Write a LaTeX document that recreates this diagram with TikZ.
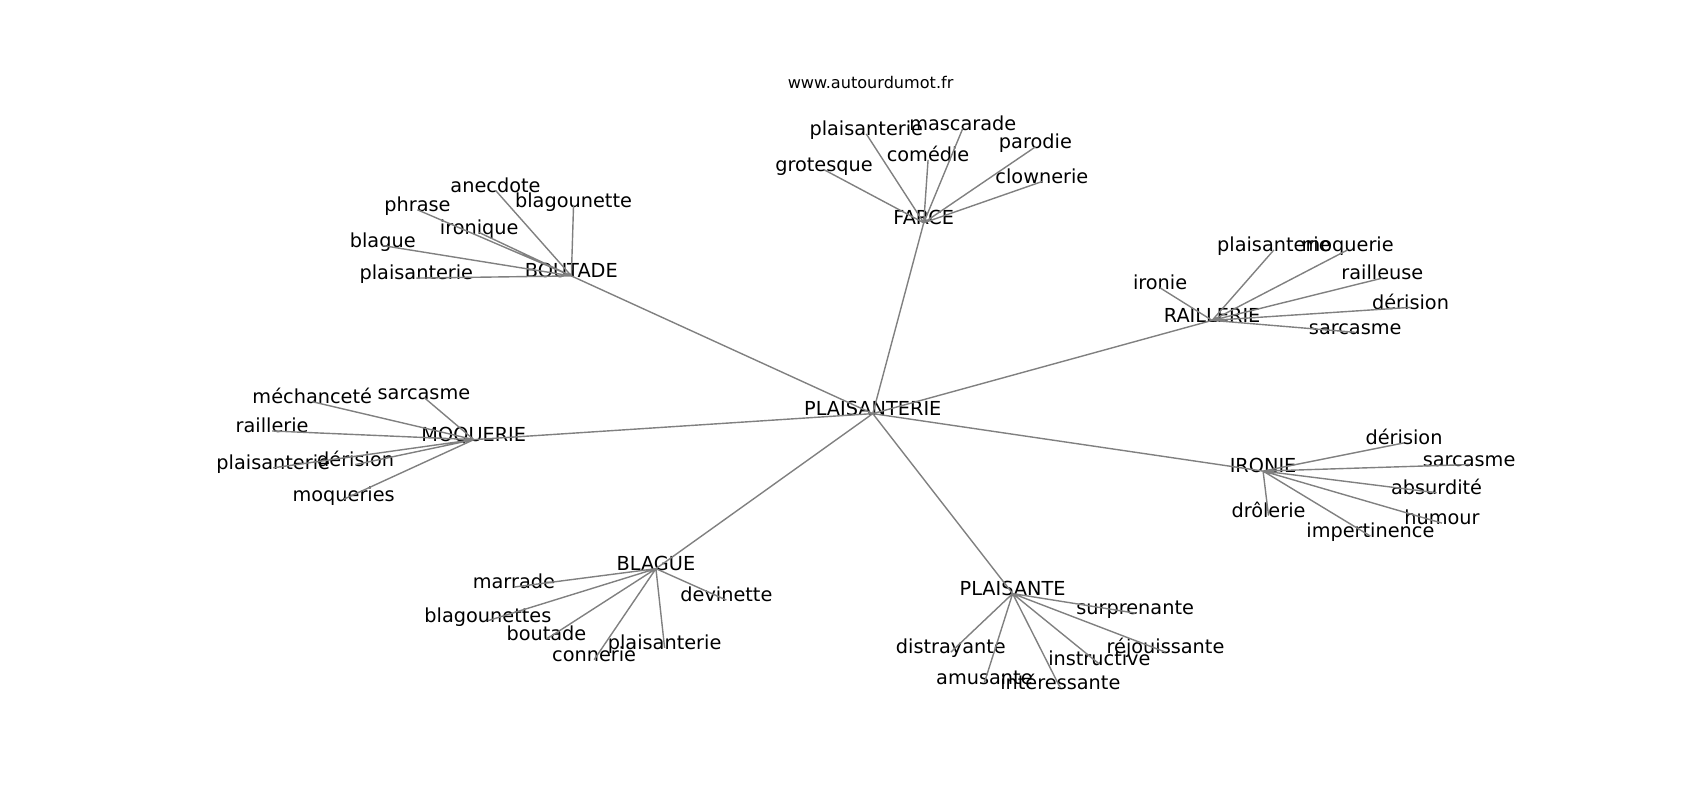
\documentclass[tikz,border=0pt]{standalone}
\usepackage{fontspec}
\setmainfont{DejaVu Sans}
\tikzset{
	word/.style={inner sep=0pt, text height=0.76em, text depth=0.40em, font=\fontsize{19.3}{22}\selectfont},
	site/.style={inner sep=0pt, font=\fontsize{16.1}{19}\selectfont},
	link/.style={draw=gray, line width=1.4pt},
}
\begin{document}
\begin{tikzpicture}[x=1.0842pt, y=-1.0842pt]
		\useasboundingbox (0,0) rectangle (1568,738);
		\node[site] (site) at (803,76) {www.autourdumot.fr};
	\begin{scope}[shift={(0,4.5)}]
		\node[word] (plaisanterie) at (805,377) {PLAISANTERIE};
		\node[word] (farce) at (852,201) {FARCE};
		\node[word] (boutade) at (527,250) {BOUTADE};
		\node[word] (raillerie) at (1118,291) {RAILLERIE};
		\node[word] (moquerie) at (437,401) {MOQUERIE};
		\node[word] (ironie) at (1165,430) {IRONIE};
		\node[word] (blague) at (605,520) {BLAGUE};
		\node[word] (plaisante) at (934,543) {PLAISANTE};
		\draw[link] (plaisanterie.center) -- (farce.center);
		\draw[link] (plaisanterie.center) -- (boutade.center);
		\draw[link] (plaisanterie.center) -- (raillerie.center);
		\draw[link] (plaisanterie.center) -- (moquerie.center);
		\draw[link] (plaisanterie.center) -- (ironie.center);
		\draw[link] (plaisanterie.center) -- (blague.center);
		\draw[link] (plaisanterie.center) -- (plaisante.center);

		\node[word] (fa-grot) at (760,152) {grotesque};
		\node[word] (fa-plai) at (799,119) {plaisanterie};
		\node[word] (fa-masc) at (888,114) {mascarade};
		\node[word] (fa-come) at (856,143) {comédie};
		\node[word] (fa-paro) at (955,131) {parodie};
		\node[word] (fa-clow) at (961,163) {clownerie};
		\draw[link] (farce.center) -- (fa-grot.center) (farce.center) -- (fa-plai.center)
			(farce.center) -- (fa-masc.center) (farce.center) -- (fa-come.center)
			(farce.center) -- (fa-paro.center) (farce.center) -- (fa-clow.center);

		\node[word] (bo-anec) at (457,171) {anecdote};
		\node[word] (bo-blag) at (529,185) {blagounette};
		\node[word] (bo-phra) at (385,189) {phrase};
		\node[word] (bo-iron) at (442,210) {ironique};
		\node[word] (bo-blg) at (353,222) {blague};
		\node[word] (bo-plai) at (384,252) {plaisanterie};
		\draw[link] (boutade.center) -- (bo-anec.center) (boutade.center) -- (bo-blag.center)
			(boutade.center) -- (bo-phra.center) (boutade.center) -- (bo-iron.center)
			(boutade.center) -- (bo-blg.center) (boutade.center) -- (bo-plai.center);

		\node[word] (ra-iron) at (1070,261) {ironie};
		\node[word] (ra-plai) at (1175,226) {plaisanterie};
		\node[word] (ra-moqu) at (1243,226) {moquerie};
		\node[word] (ra-rail) at (1275,252) {railleuse};
		\node[word] (ra-deri) at (1301,279) {dérision};
		\node[word] (ra-sarc) at (1250,302) {sarcasme};
		\draw[link] (raillerie.center) -- (ra-iron.center) (raillerie.center) -- (ra-plai.center)
			(raillerie.center) -- (ra-moqu.center) (raillerie.center) -- (ra-rail.center)
			(raillerie.center) -- (ra-deri.center) (raillerie.center) -- (ra-sarc.center);

		\node[word] (mo-mech) at (288,366) {méchanceté};
		\node[word] (mo-sarc) at (391,362) {sarcasme};
		\node[word] (mo-rail) at (251,393) {raillerie};
		\node[word] (mo-plai) at (252,427) {plaisanterie};
		\node[word] (mo-deri) at (328,424) {dérision};
		\node[word] (mo-moqu) at (317,456) {moqueries};
		\draw[link] (moquerie.center) -- (mo-mech.center) (moquerie.center) -- (mo-sarc.center)
			(moquerie.center) -- (mo-rail.center) (moquerie.center) -- (mo-plai.center)
			(moquerie.center) -- (mo-deri.center) (moquerie.center) -- (mo-moqu.center);

		\node[word] (ir-deri) at (1295,404) {dérision};
		\node[word] (ir-sarc) at (1355,424) {sarcasme};
		\node[word] (ir-absu) at (1325,450) {absurdité};
		\node[word] (ir-humo) at (1330,478) {humour};
		\node[word] (ir-drol) at (1170,471) {drôlerie};
		\node[word] (ir-impe) at (1264,490) {impertinence};
		\draw[link] (ironie.center) -- (ir-deri.center) (ironie.center) -- (ir-sarc.center)
			(ironie.center) -- (ir-absu.center) (ironie.center) -- (ir-humo.center)
			(ironie.center) -- (ir-drol.center) (ironie.center) -- (ir-impe.center);

		\node[word] (bl-marr) at (474,537) {marrade};
		\node[word] (bl-devi) at (670,549) {devinette};
		\node[word] (bl-blag) at (450,568) {blagounettes};
		\node[word] (bl-bout) at (504,585) {boutade};
		\node[word] (bl-plai) at (613,593) {plaisanterie};
		\node[word] (bl-conn) at (548,604) {connerie};
		\draw[link] (blague.center) -- (bl-marr.center) (blague.center) -- (bl-devi.center)
			(blague.center) -- (bl-blag.center) (blague.center) -- (bl-bout.center)
			(blague.center) -- (bl-plai.center) (blague.center) -- (bl-conn.center);

		\node[word] (pl-surp) at (1047,561) {surprenante};
		\node[word] (pl-dist) at (877,597) {distrayante};
		\node[word] (pl-rejo) at (1075,597) {réjouissante};
		\node[word] (pl-inst) at (1014,608) {instructive};
		\node[word] (pl-amus) at (908,625) {amusante};
		\node[word] (pl-inte) at (978,630) {intéressante};
		\draw[link] (plaisante.center) -- (pl-surp.center) (plaisante.center) -- (pl-dist.center)
			(plaisante.center) -- (pl-rejo.center) (plaisante.center) -- (pl-inst.center)
			(plaisante.center) -- (pl-amus.center) (plaisante.center) -- (pl-inte.center);
	\end{scope}
	\end{tikzpicture}
\end{document}
